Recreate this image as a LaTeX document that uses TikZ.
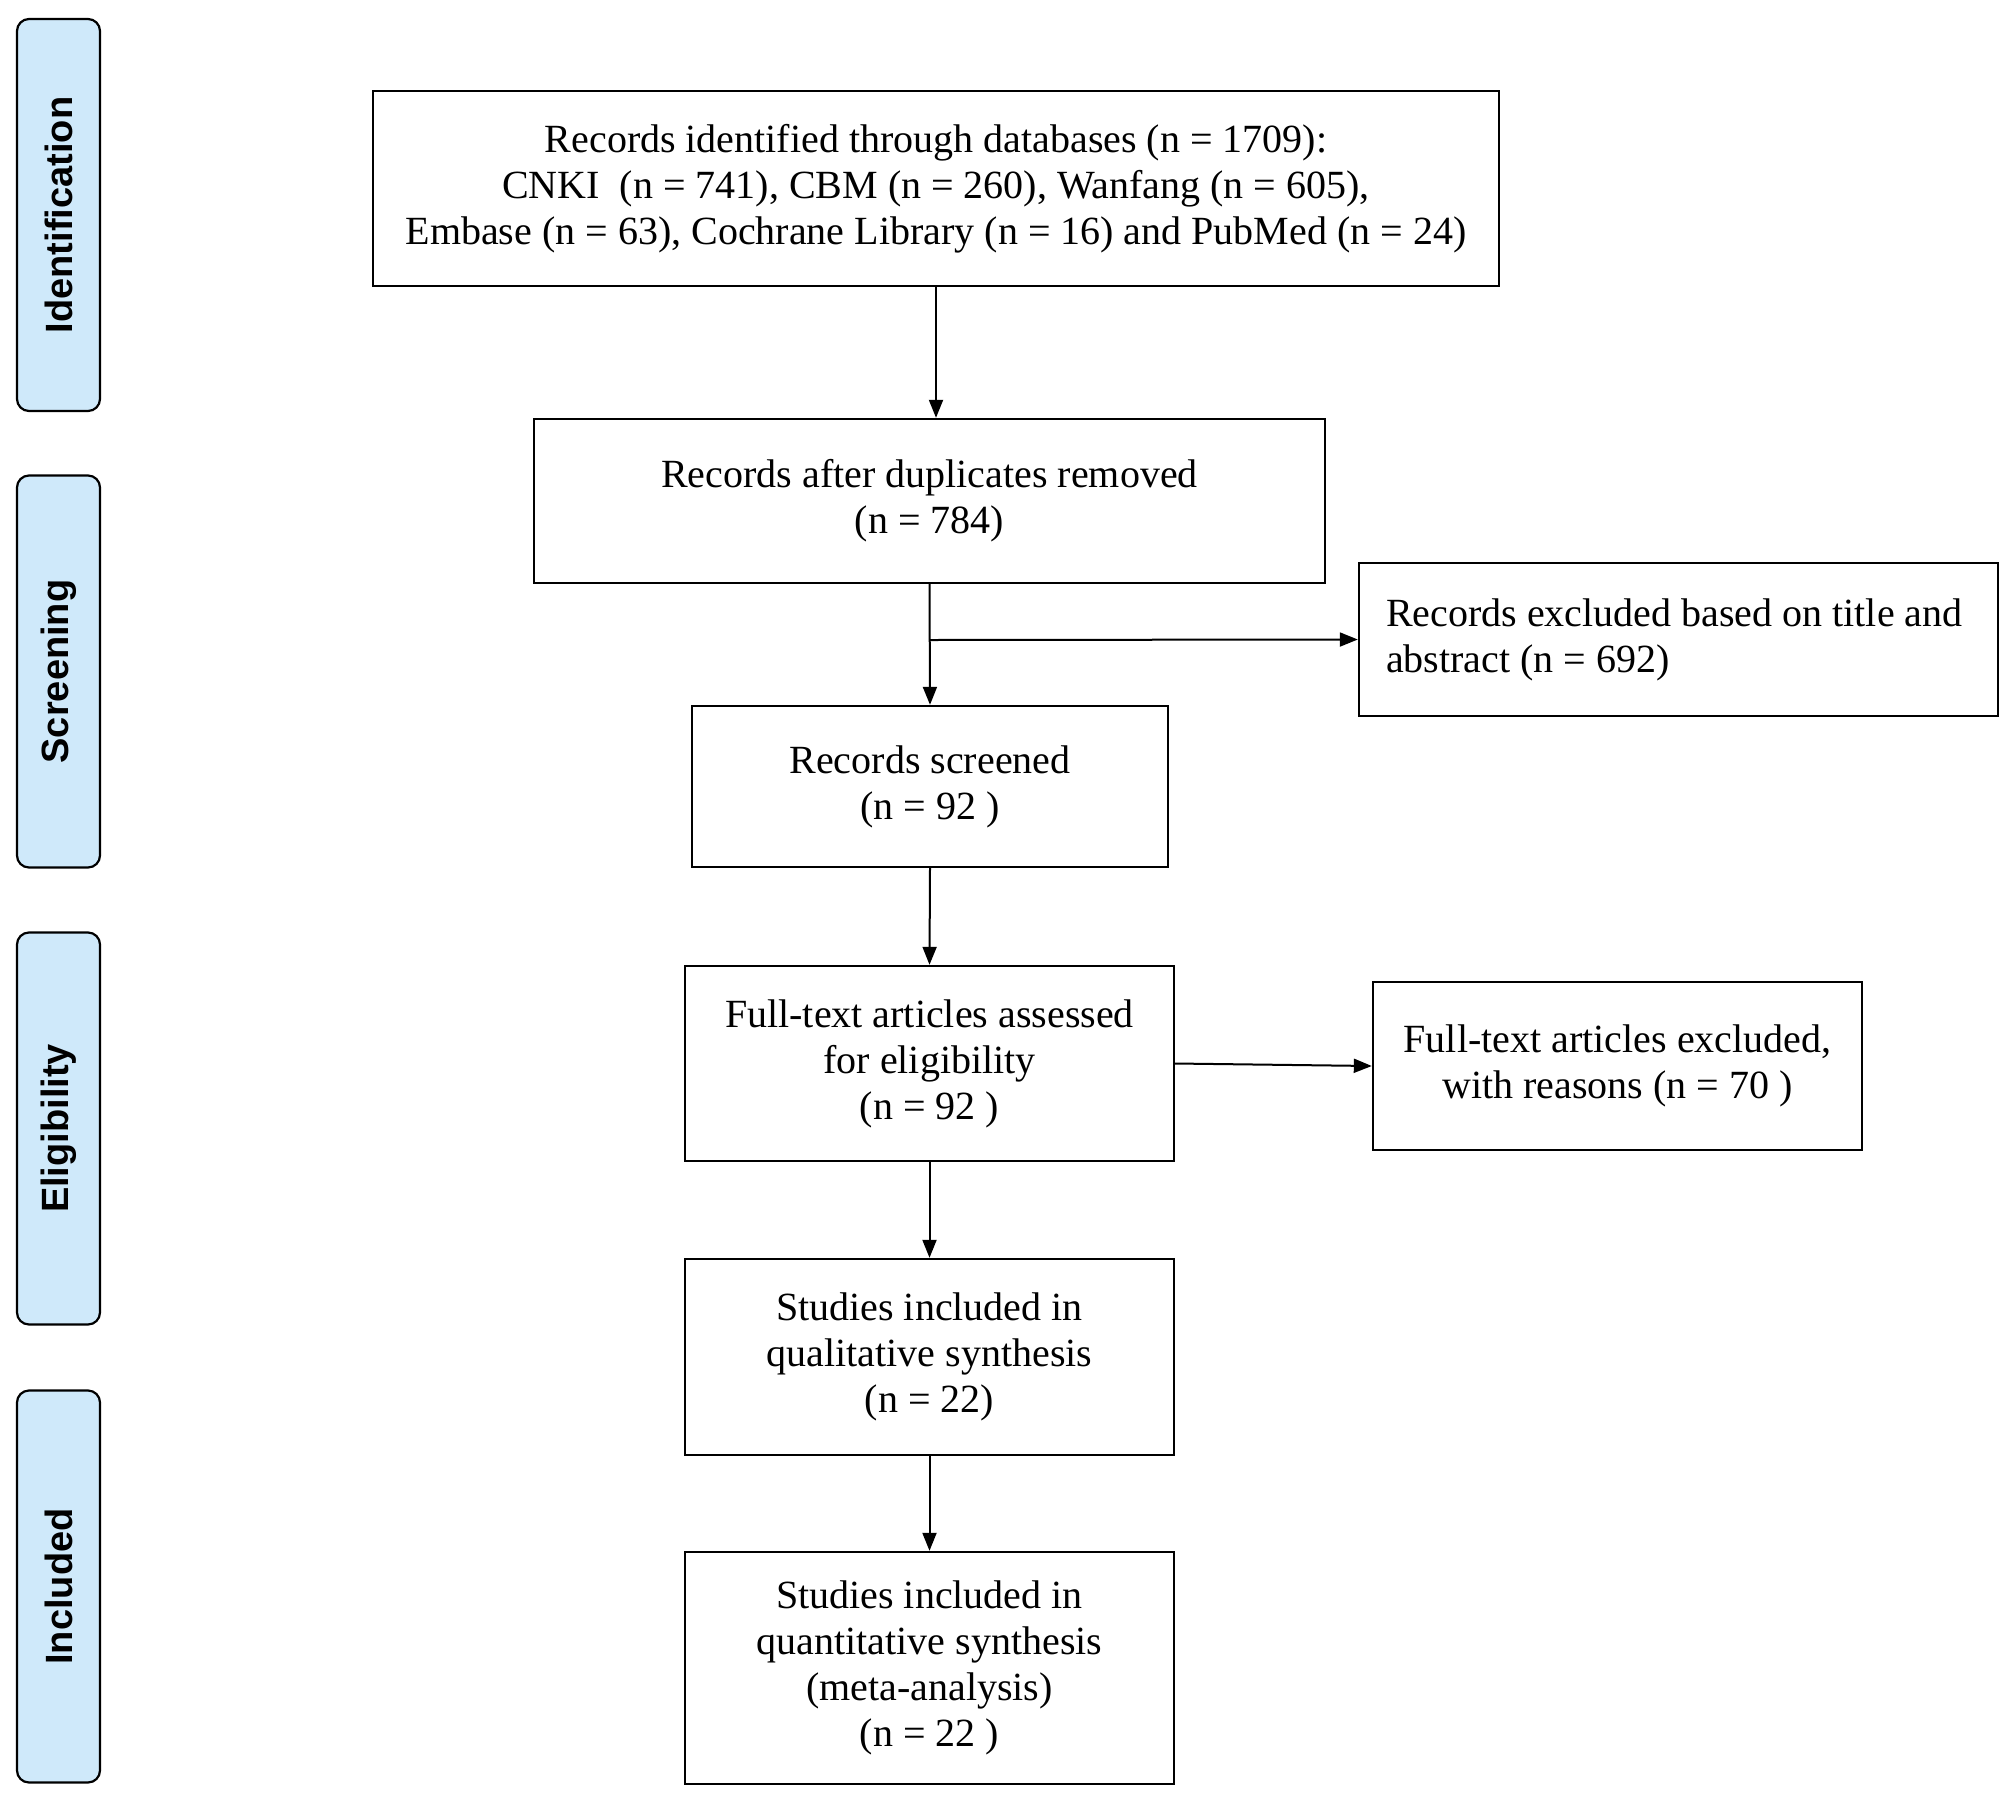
\documentclass[tikz,border=0pt]{standalone}
\usepackage{fontspec}
\setmainfont{Liberation Serif}
\setsansfont{Liberation Sans}
\usetikzlibrary{arrows.meta}
\definecolor{sidefill}{RGB}{207,233,250}
\tikzset{
  box/.style={draw=black, line width=1.2pt, align=center, inner sep=0pt,
    font=\fontsize{20}{23}\selectfont},
  sidebox/.style={draw=black, line width=1.1pt, fill=sidefill, rounded corners=6pt,
    minimum width=41.5pt, minimum height=196pt, inner sep=0pt},
  sidelabel/.style={rotate=90, font=\sffamily\bfseries\fontsize{19}{23}\selectfont},
  arr/.style={line width=1pt, -{Triangle[length=9pt,width=7pt]}},
  ln/.style={line width=1pt}
}
\begin{document}
\begin{tikzpicture}[x=0.5pt,y=-0.5pt]
\useasboundingbox[fill=white] (0,0) rectangle (2008,1794);
% side phase boxes
\node[sidebox] (sid) at (58.5,215) {};
\node[sidelabel] (sidl) at (sid.center) {Identification};
\node[sidebox] (sscr) at (58.5,671.5) {};
\node[sidelabel] (sscrl) at (sscr.center) {Screening};
\node[sidebox] (selig) at (58.5,1128.5) {};
\node[sidelabel] (seligl) at (selig.center) {Eligibility};
\node[sidebox] (sinc) at (58.5,1586.5) {};
\node[sidelabel] (sincl) at (sinc.center) {Included};
% main boxes
\node[box, minimum width=563pt, minimum height=97.5pt] (b1) at (936,188.5)
  {Records identified through databases (n = 1709):\\
   CNKI\ \ (n = 741), CBM (n = 260), Wanfang (n = 605),\\
   Embase (n = 63), Cochrane Library (n = 16) and PubMed (n = 24)};
\node[box, minimum width=395.5pt, minimum height=82pt] (b2) at (929.5,501)
  {Records after duplicates removed\\(n = 784)};
\node[box, minimum width=319.5pt, minimum height=76.5pt, align=flush left,
  text width=292.5pt, inner xsep=13.5pt] (b4) at (1678.5,639.5)
  {Records excluded based on title and\\abstract (n = 692)};
\node[box, minimum width=238pt, minimum height=80.5pt] (b3) at (930,786.5)
  {Records screened\\(n = 92 )};
\node[box, minimum width=244.5pt, minimum height=97.5pt] (b5) at (929.5,1063.5)
  {Full-text articles assessed\\for eligibility\\(n = 92 )};
\node[box, minimum width=244.5pt, minimum height=84pt] (b6) at (1617.5,1066)
  {Full-text articles excluded,\\with reasons (n = 70 )};
\node[box, minimum width=244.5pt, minimum height=98pt] (b7) at (929.5,1357)
  {Studies included in\\qualitative synthesis\\(n = 22)};
\node[box, minimum width=244.5pt, minimum height=116pt] (b8) at (929.5,1668)
  {Studies included in\\quantitative synthesis\\(meta-analysis)\\(n = 22 )};
% connectors
\draw[arr] (b1.south) -- (b1.south |- b2.north);
\draw[arr] (b2.south) -- (b3.north);
\coordinate (br) at (930,640);
\draw[arr] (br) -- (b4.west);
\draw[arr] (b3.south) -- (b5.north);
\draw[arr] (b5.east) -- (b6.west);
\draw[arr] (b5.south) -- (b7.north);
\draw[arr] (b7.south) -- (b8.north);
\end{tikzpicture}
\end{document}
